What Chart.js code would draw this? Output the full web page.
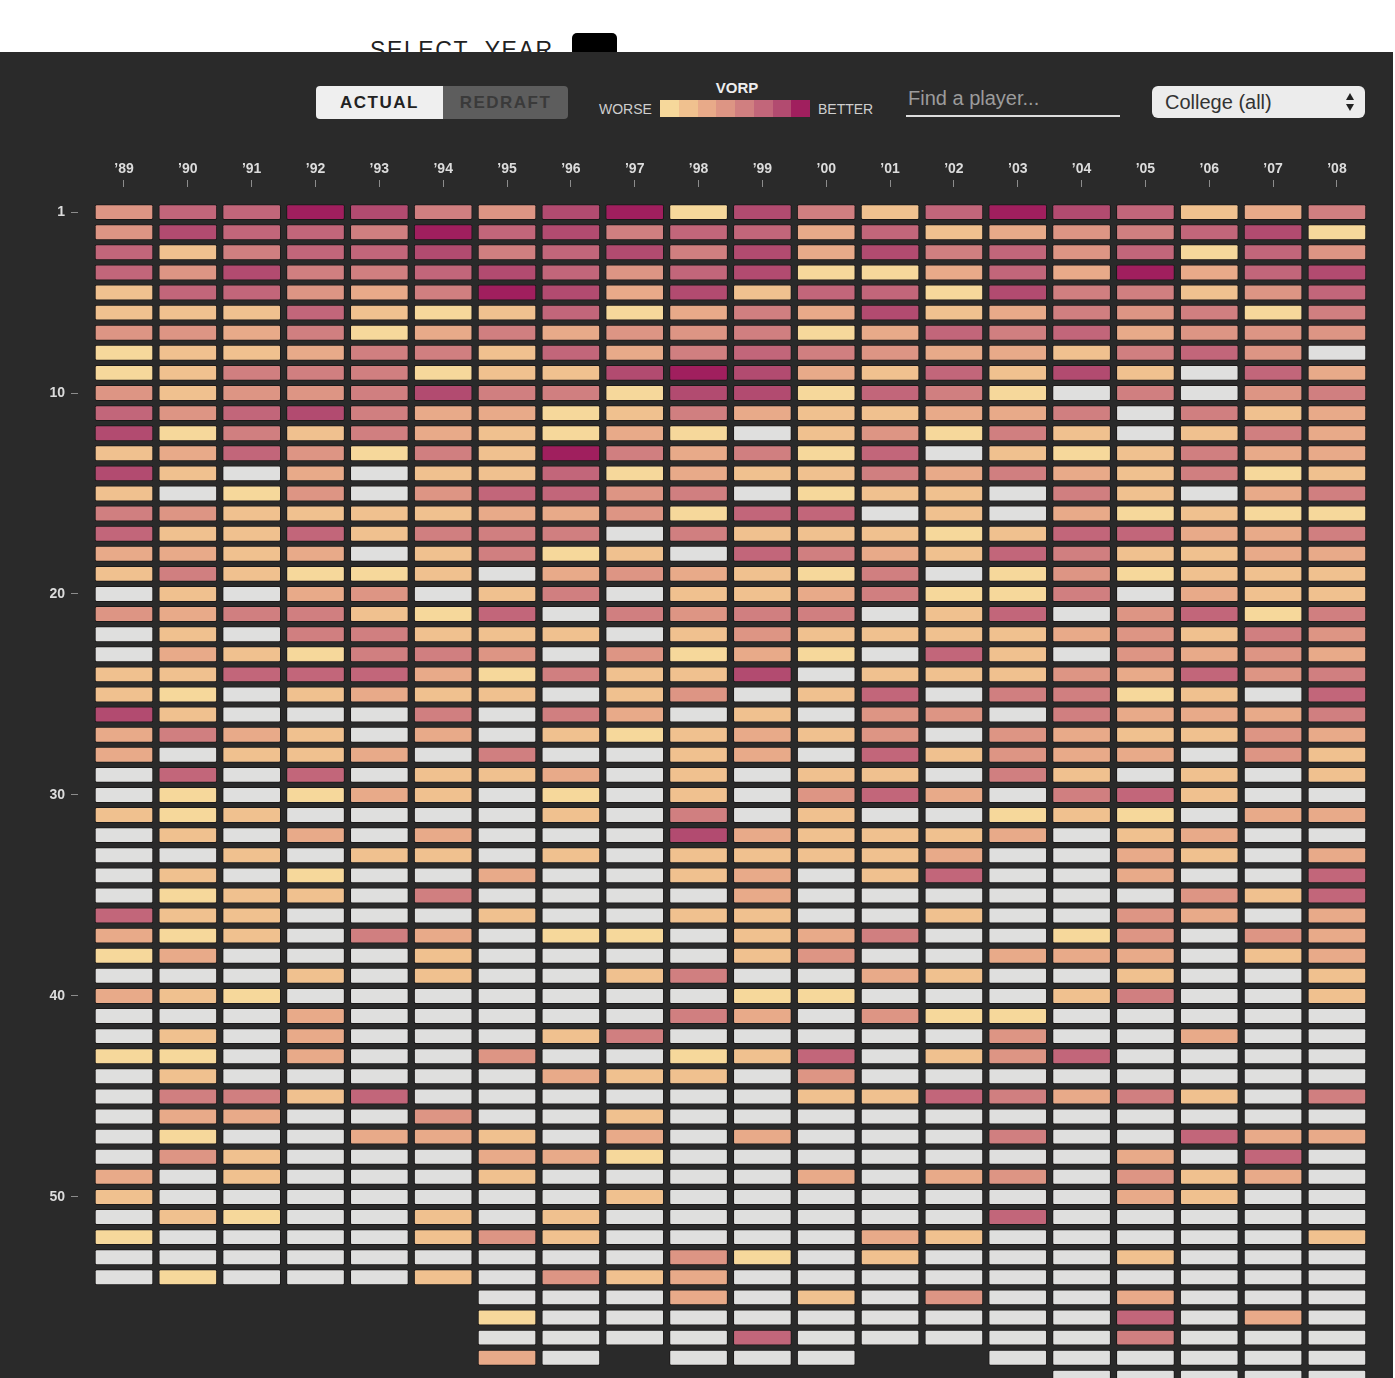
<!DOCTYPE html>
<html><head><meta charset="utf-8">
<script src="https://cdn.jsdelivr.net/npm/chart.js@4.4.1/dist/chart.umd.min.js"></script>
<style>
html,body{margin:0;padding:0;width:1395px;height:1378px;overflow:hidden;background:#fff;font-family:"Liberation Sans",Arial,sans-serif;}
#sel{position:absolute;left:370px;top:37px;font-size:23px;letter-spacing:1.6px;color:#222;white-space:nowrap;}
#box{position:absolute;left:572px;top:33px;width:45px;height:30px;background:#000;border-radius:5px;}
#panel{position:absolute;left:0;top:52px;width:1393px;height:1326px;background:#2a2a2a;}
#btns{position:absolute;left:316px;top:86px;width:252px;height:33px;border-radius:4px;overflow:hidden;display:flex;}
#btns div{height:33px;line-height:33px;text-align:center;font-weight:bold;font-size:17px;letter-spacing:1.5px;}
#act{width:127px;background:#efefef;color:#222;}
#red{width:125px;background:#5d5d5d;color:#3a3a3a;}
#vorp{position:absolute;left:700px;width:74px;text-align:center;top:79px;font-weight:bold;font-size:15px;color:#eee;}
#worse{position:absolute;left:599px;top:101px;font-size:14px;color:#cfcfcf;}
#better{position:absolute;left:818px;top:101px;font-size:14px;color:#cfcfcf;}
#legend{position:absolute;left:660px;top:100px;width:150px;height:17px;display:flex;}
#legend div{flex:1;height:17px;}
#find{position:absolute;left:908px;top:87px;font-size:20px;color:#9c9c9c;}
#line{position:absolute;left:906px;top:115px;width:214px;height:2px;background:#ddd;}
#college{position:absolute;left:1152px;top:86px;width:213px;height:32px;background:#ececec;border-radius:6px;}
#college span{position:absolute;left:13px;top:5px;font-size:20px;color:#333;}
#up{position:absolute;left:1346px;top:93px;width:0;height:0;border-left:4px solid transparent;border-right:4px solid transparent;border-bottom:7px solid #222;}
#down{position:absolute;left:1346px;top:104px;width:0;height:0;border-left:4px solid transparent;border-right:4px solid transparent;border-top:7px solid #222;}
#wrap{position:absolute;left:0;top:52px;width:1395px;height:1326px;}
</style></head>
<body>
<div id="sel">SELECT &nbsp;YEAR</div><div id="box"></div>
<div id="panel"></div>
<div id="btns"><div id="act">ACTUAL</div><div id="red">REDRAFT</div></div>
<div id="vorp">VORP</div>
<div id="worse">WORSE</div>
<div id="legend"></div>
<div id="better">BETTER</div>
<div id="find">Find a player...</div><div id="line"></div>
<div id="college"><span>College (all)</span></div><div id="up"></div><div id="down"></div>
<div id="wrap"><canvas id="c" width="1395" height="1326"></canvas></div>
<script>
// Draft classes (columns)
const years = ["\u201989","\u201990","\u201991","\u201992","\u201993","\u201994","\u201995","\u201996","\u201997","\u201998","\u201999","\u201900","\u201901","\u201902","\u201903","\u201904","\u201905","\u201906","\u201907","\u201908"];
// Pick number tick labels
const pickTicks = [1, 10, 20, 30, 40, 50];
// VORP level colours: 0 = no value (grey), 1 = worse ... 8 = better
const vorpColors = ["#dfdfde","#f6d89b","#f0c18f","#e8aa89","#dd9584","#d07f80","#c2667a","#b24b70","#a01f5e"];
// VORP level per pick (row), one character per draft class '89..'08; '.' = no pick
const pickLevels = [
"46687547817526876235",
"47665867566362345671",
"62566756757375646164",
"64755676467113638367",
"26643587372661755246",
"22262126135372354515",
"44351353445136563444",
"12235526356543325640",
"12555122787326272063",
"42445755177165105045",
"64675331253223350523",
"71525321310241520253",
"23641528535160212533",
"72030226132253532512",
"20140466450122052035",
"54222233416602031211",
"62262555052221266335",
"33230251206532652233",
"25211203432150141222",
"02034025022351150322",
"43552160545502604615",
"02055222024222234254",
"03215540413106204343",
"22666315227022243645",
"21023220240260551206",
"72000505302044053335",
"35320302123240432243",
"30223050023062433042",
"06060223020220520202",
"01013201020463056200",
"21200002050200121033",
"02030300073222302300",
"00202202022223003203",
"02010030023026003006",
"01220500003000000426",
"62200020022002004303",
"31205301102350014043",
"13000200002400333023",
"00020200250032002002",
"32100000001100025002",
"00030000053041100000",
"02030002500000400300",
"11030040012602460000",
"02000003220400000000",
"05526000000226535205",
"03300400200000000000",
"01003320303000500633",
"04200033100000003060",
"30200020000303404230",
"20000000200000003200",
"02100202000000600000",
"10000242000032000002",
"00000000041020002000",
"01000204230000000000",
"......00030204003000",
"......10000000006030",
"......00006000005000",
"......30.000..000000",
"...............00000"
];

document.getElementById('legend').innerHTML = vorpColors.slice(1).map(c => '<div style="background:' + c + '"></div>').join('');

Chart.defaults.font.family = '"Liberation Sans", Arial, sans-serif';
const datasets = pickLevels.map((row, r) => {
  const pick = r + 1;
  const data = [], colors = [];
  for (let j = 0; j < years.length; j++) {
    const ch = row[j];
    if (ch === '.' || ch === undefined) continue;
    data.push({x: j, y: [pick - 0.38, pick + 0.38]});
    colors.push(vorpColors[+ch]);
  }
  return {
    label: 'Pick ' + pick, data, backgroundColor: colors,
    borderColor: 'rgba(10,5,5,0.5)', borderWidth: 1, borderRadius: 2, borderSkipped: false,
    grouped: false, categoryPercentage: 1, barPercentage: 1, maxBarThickness: 58
  };
});

new Chart(document.getElementById('c'), {
  type: 'bar',
  data: {datasets},
  options: {
    responsive: false, animation: false,
    layout: {padding: {left: 0, right: 25, top: 0, bottom: 0}},
    plugins: {legend: {display: false}, tooltip: {enabled: false}},
    scales: {
      x: {
        type: 'linear', position: 'top', min: -0.7205, max: 19.518, offset: false,
        afterBuildTicks: s => { s.ticks = years.map((_, i) => ({value: i})); },
        afterFit: s => { s.height = 135; s.paddingLeft = 0; s.paddingRight = 0; },
        ticks: {callback: v => years[v], color: '#dcdcdc', font: {size: 14, weight: 'bold'}, padding: 2, maxRotation: 0, autoSkip: false},
        grid: {offset: false, drawOnChartArea: false, drawTicks: true, tickLength: 7, tickColor: '#8c8c8c', tickWidth: 1},
        border: {display: false}
      },
      y: {
        type: 'linear', reverse: true, min: -0.25, max: 59.01,
        afterBuildTicks: s => { s.ticks = pickTicks.map(v => ({value: v})); },
        afterFit: s => { s.width = 78; s.paddingTop = 0; s.paddingBottom = 0; },
        ticks: {color: '#dcdcdc', font: {size: 14, weight: 'bold'}, padding: 6},
        grid: {drawOnChartArea: false, drawTicks: true, tickLength: 7, tickColor: '#8c8c8c', tickWidth: 1},
        border: {display: false}
      }
    }
  }
});
</script>
</body></html>
